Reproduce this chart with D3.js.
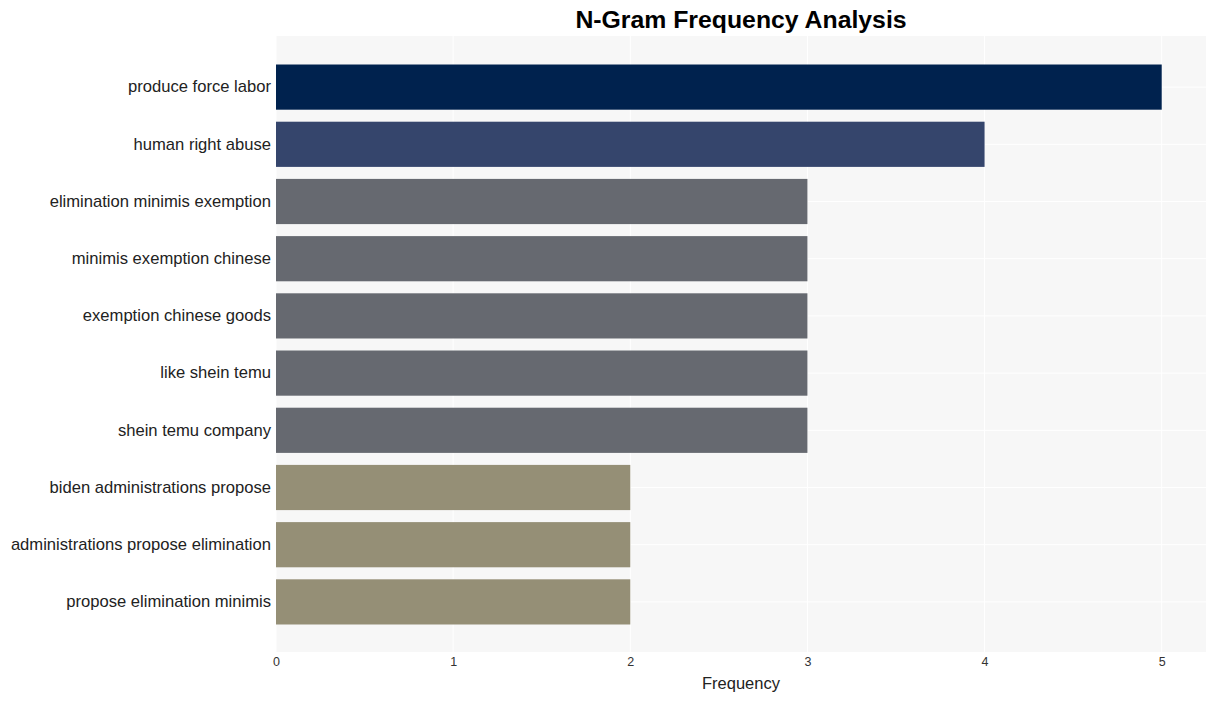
<!DOCTYPE html>
<html><head><meta charset="utf-8">
<script src="https://cdn.jsdelivr.net/npm/d3@7"></script>
<style>body{margin:0;background:#fff;font-family:"Liberation Sans",Arial,sans-serif;}</style>
</head><body>
<svg id="chart" width="1216" height="701"></svg>
<script>
const categories = ["produce force labor","human right abuse","elimination minimis exemption","minimis exemption chinese","exemption chinese goods","like shein temu","shein temu company","biden administrations propose","administrations propose elimination","propose elimination minimis"];
const values = [5,4,3,3,3,3,3,2,2,2];
const colors = ["#00224e","#35456c","#666970","#666970","#666970","#666970","#666970","#958f76","#958f76","#958f76"];
const xTicks = [0,1,2,3,4,5];

const svg = d3.select("#chart");
const L = 276, R = 1206, T = 36, B = 652;
const x = d3.scaleLinear().domain([0, 5.25]).range([L, R]);
const y = d3.scaleBand().domain(categories).range([58.5, 630.5]).paddingInner(0.21).paddingOuter(0.105);

svg.append("rect").attr("x", L).attr("y", T).attr("width", R - L).attr("height", B - T).attr("fill", "#f7f7f7");

svg.append("g").selectAll("line").data(xTicks).join("line")
  .attr("x1", d => x(d)).attr("x2", d => x(d)).attr("y1", T).attr("y2", B)
  .attr("stroke", "#fff").attr("stroke-width", 1);
svg.append("g").selectAll("line").data(categories).join("line")
  .attr("x1", L).attr("x2", R).attr("y1", d => y(d) + y.bandwidth()/2).attr("y2", d => y(d) + y.bandwidth()/2)
  .attr("stroke", "#fff").attr("stroke-width", 1);

svg.append("g").selectAll("rect").data(categories).join("rect")
  .attr("x", x(0)).attr("y", d => y(d))
  .attr("width", (d, i) => x(values[i]) - x(0)).attr("height", y.bandwidth())
  .attr("fill", (d, i) => colors[i]);

const xAxis = svg.append("g").attr("transform", `translate(0,${B})`)
  .call(d3.axisBottom(x).tickValues(xTicks).tickFormat(d3.format("d")).tickSize(0).tickPadding(5));
xAxis.select(".domain").remove();
xAxis.selectAll("text").attr("font-size", 12.5).attr("fill", "#333").attr("font-family", "Liberation Sans, Arial, sans-serif");

const yAxis = svg.append("g").attr("transform", `translate(${L},0)`)
  .call(d3.axisLeft(y).tickSize(0).tickPadding(5));
yAxis.select(".domain").remove();
yAxis.selectAll("text").attr("font-size", 16.6).attr("fill", "#222").attr("font-family", "Liberation Sans, Arial, sans-serif");

svg.append("text").attr("x", (L + R) / 2).attr("y", 689).attr("text-anchor", "middle")
  .attr("font-size", 16.5).attr("fill", "#222").text("Frequency");

svg.append("text").attr("x", (L + R) / 2).attr("y", 28).attr("text-anchor", "middle")
  .attr("font-size", 24.8).attr("font-weight", "bold").attr("fill", "#000").text("N-Gram Frequency Analysis");
</script>
</body></html>
